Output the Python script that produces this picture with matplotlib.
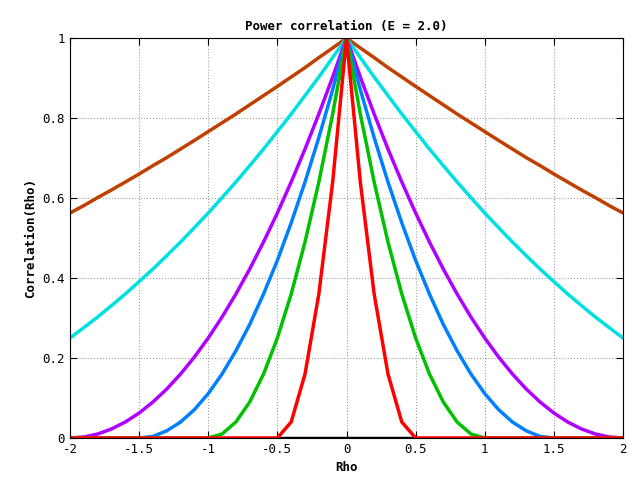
import matplotlib
matplotlib.use('Agg')
import matplotlib.pyplot as plt
import numpy as np

# rho from 0 to 2 in steps of 0.1 (curves are symmetric about rho = 0)
rho_half = [0.0, 0.1, 0.2, 0.3, 0.4, 0.5, 0.6, 0.7, 0.8, 0.9, 1.0,
            1.1, 1.2, 1.3, 1.4, 1.5, 1.6, 1.7, 1.8, 1.9, 2.0]

corr_red = [1, .64, .36, .16, .04, 0, 0, 0, 0, 0, 0, 0, 0, 0, 0, 0, 0, 0, 0, 0, 0]
corr_green = [1, .81, .64, .49, .36, .25, .16, .09, .04, .01, 0, 0, 0, 0, 0, 0, 0, 0, 0, 0, 0]
corr_blue = [1, .871, .751, .64, .538, .444, .36, .284, .218, .16, .111,
             .071, .04, .018, .004, 0, 0, 0, 0, 0, 0]
corr_purple = [1, .9025, .81, .7225, .64, .5625, .49, .4225, .36, .3025, .25,
               .2025, .16, .1225, .09, .0625, .04, .0225, .01, .0025, 0]
corr_cyan = [1, .951, .9025, .856, .81, .766, .7225, .681, .64, .601, .5625,
             .526, .49, .456, .4225, .391, .36, .331, .3025, .276, .25]
corr_brown = [1, .975, .951, .926, .9025, .879, .856, .833, .81, .788, .766,
              .744, .7225, .701, .681, .660, .64, .620, .601, .581, .5625]
corr_zero = [0] * 21

series = [
    (corr_zero, '#000000'),
    (corr_brown, '#c04000'),
    (corr_cyan, '#00e0e0'),
    (corr_purple, '#b000ff'),
    (corr_blue, '#0080ff'),
    (corr_green, '#00c000'),
    (corr_red, '#ff0000'),
]

def mirror(xs, ys):
    x = np.concatenate([-np.array(xs[::-1]), np.array(xs[1:])])
    y = np.concatenate([np.array(ys[::-1]), np.array(ys[1:])])
    return x, y

plt.rcParams['font.family'] = 'DejaVu Sans Mono'
plt.rcParams['font.size'] = 9

fig = plt.figure(figsize=(6.4, 4.8), dpi=100)
ax = fig.add_axes([70/640, 1 - 438/480, 553/640, 400/480])

for ys, col in series:
    x, y = mirror(rho_half, ys)
    ax.plot(x, y, color=col, linewidth=2.5)

ax.set_xlim(-2, 2)
ax.set_ylim(0, 1)
ax.set_xticks([-2, -1.5, -1, -0.5, 0, 0.5, 1, 1.5, 2])
ax.set_xticklabels(['-2', '-1.5', '-1', '-0.5', '0', '0.5', '1', '1.5', '2'])
ax.set_yticks([0, 0.2, 0.4, 0.6, 0.8, 1])
ax.set_yticklabels(['0', '0.2', '0.4', '0.6', '0.8', '1'])
ax.tick_params(direction='in', top=True, right=True, length=5)
ax.grid(True, color='#a0a0a0', linestyle=':', linewidth=0.8)
ax.set_title('Power correlation (E = 2.0)', fontsize=9, fontweight='bold')
ax.set_xlabel('Rho', fontweight='bold')
ax.set_ylabel('Correlation(Rho)', fontweight='bold')

fig.savefig('out.png', dpi=100)
